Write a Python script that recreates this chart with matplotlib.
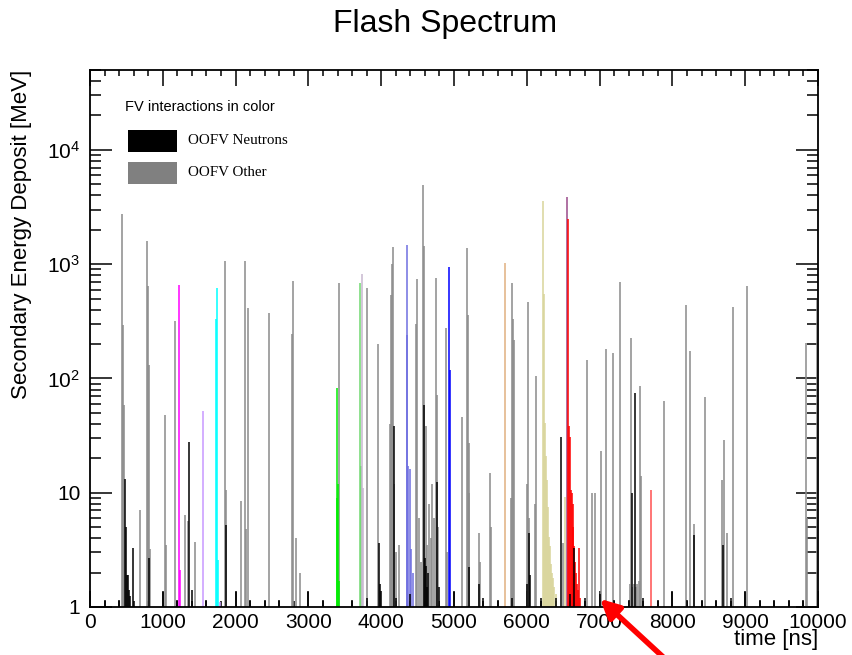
import matplotlib
matplotlib.use("Agg")
import matplotlib.pyplot as plt
from matplotlib.ticker import FixedLocator, NullFormatter, MultipleLocator
from matplotlib.patches import Rectangle, FancyArrowPatch

plt.rcParams['font.family'] = ['Liberation Sans', 'DejaVu Sans']
plt.rcParams['mathtext.fontset'] = 'custom'
plt.rcParams['mathtext.rm'] = 'Liberation Sans'

# ---------------- data ----------------
# OOFV "other" deposits (grey)
gray_t = [444, 458, 466, 687, 783, 797, 811, 825, 1035, 1050, 1163, 1310, 1340,
          1447, 1850, 1864, 2074, 2138, 2129, 2175, 2463, 2770, 2784, 2825, 2880,
          3420, 3800, 3960, 4135, 4145, 4158, 4240, 4480, 4492, 4570, 4584,
          4610, 4625, 4748, 4762, 4775, 4886, 5110, 5174, 5188, 5200, 5212,
          5348, 5362, 5495, 5508, 5780, 5792, 5805, 5818, 6012, 6122, 6493,
          6822, 6891, 6930, 7019, 7088, 7179, 7285, 7427, 7550, 7565, 7885,
          8191, 8242, 8292, 8452, 8681, 8713, 8744, 8837, 9029, 9835, 9982,
          4120, 4170, 4200, 4520, 4540, 4655, 4680, 4700, 4720, 4900,
          6000, 6024, 6110, 7415, 7450, 7470, 7500, 7520, 7540, 9845]
gray_h = [2760, 295, 58, 7.1, 1600, 645, 131, 3.2, 48, 3.5, 317, 6.4, 5.7,
          3.7, 1070, 10.5, 8.4, 4.8, 1070, 410, 376, 245, 710, 4, 2,
          690, 615, 200, 535, 1000, 1410, 3.5, 300, 740, 4900, 1440,
          38, 3.5, 760, 72, 5, 275, 46, 1385, 357, 27, 10,
          4.4, 2.5, 15, 5, 9, 690, 330, 216, 470, 105, 3.6,
          145, 10, 10, 23, 180, 168, 705, 225, 86, 14, 64,
          435, 175, 5.3, 69, 13, 29, 4.4, 425, 645, 203, 490,
          40, 12, 3, 6, 2.5, 8, 4, 12, 6, 3,
          12, 6, 8, 1.6, 1.5, 1.6, 1.5, 1.6, 1.7, 6]

# OOFV neutron deposits (black)
black_t = [200, 400, 480, 494, 513, 527, 541, 555, 595, 815, 1000, 1200, 1364,
           1400, 1600, 1868, 2000, 2200, 2400, 2600, 3000, 3200, 3600, 3800,
           3970, 3984, 4180, 4200, 4400, 4590, 4600, 4614, 4628, 4642, 4765,
           4800, 5000, 5200, 5343, 5400, 5600, 5800, 6000, 6030, 6044, 6200,
           6400, 6470, 6600, 6650, 6800, 7000, 7200, 7400, 7441, 7491, 7600,
           7800, 8000, 8200, 8292, 8400, 8600, 8700, 8800, 9000, 9200, 9400,
           9600, 9800]
black_h = [1.15, 1.15, 13.1, 5, 1.9, 1.9, 1.4, 1.25, 3.3, 2.7, 1.36, 1.15, 28,
           1.4, 1.15, 5.2, 1.36, 1.15, 1.15, 1.15, 1.36, 1.15, 1.15, 1.2,
           3.6, 1.6, 38, 1.2, 1.3, 59, 2.7, 2.3, 1.5, 2.0, 12.5,
           1.5, 1.36, 2.25, 1.6, 1.2, 1.15, 1.2, 1.6, 4.4, 1.9, 1.2,
           1.2, 31, 1.3, 3.3, 1.2, 1.3, 1.15, 1.15, 10, 75, 1.2,
           1.15, 1.36, 1.15, 4.3, 1.15, 1.15, 3.5, 1.2, 1.36, 1.15, 1.15,
           1.15, 1.15]

# FV interactions (coloured)
magenta_t = [1227, 1237]
magenta_h = [660, 2.1]
lilac_t = [1557, 1780]
lilac_h = [52, 1.1]
cyan_t = [1728, 1740, 1754]
cyan_h = [330, 620, 2.6]
green_t = [3390, 3397, 3405, 3420]
green_h = [9, 82, 12, 1.7]
lgreen_t = [3709, 3716]
lgreen_h = [680, 17]
mauve_t = [3741, 3750]
mauve_h = [815, 11]
slate_t = [4350, 4360, 4375, 4390, 4410, 4440]
slate_h = [1470, 240, 17, 16, 3.2, 2]
blue_t = [4936, 4945]
blue_h = [935, 118]
tan_t = [5700]
tan_h = [1030]
khaki_t = [6218, 6230, 6245, 6260, 6275, 6290, 6305, 6320, 6335, 6350, 6365,
           6380, 6400, 6525]
khaki_h = [3570, 550, 41, 21, 13, 7.5, 4.1, 3.4, 2.4, 2.0, 1.8, 1.5, 1.3, 9.2]
purple_t = [6555]
purple_h = [3890]
red_t = [6565, 6578, 6590, 6602, 6615, 6628, 6641, 6654, 6667, 6680, 6693,
         6706, 6719, 6732]
red_h = [2470, 38, 31, 10.6, 10, 8, 5, 3.4, 2.5, 2.0, 1.6, 1.4, 3.3, 1.2]
lred_t = [7701]
lred_h = [10.6]

xticks = [0, 1000, 2000, 3000, 4000, 5000, 6000, 7000, 8000, 9000, 10000]
yticks = [1, 10, 100, 1000, 10000]
ylabels = ['1', '10', r'$\mathregular{10^{2}}$', r'$\mathregular{10^{3}}$',
           r'$\mathregular{10^{4}}$']

# ---------------- figure ----------------
W, H = 853, 655
fig = plt.figure(figsize=(W / 100, H / 100), dpi=100)
ax = fig.add_axes([90 / W, 1 - 607 / H, (818 - 90) / W, (607 - 70) / H])
ax.set_yscale('log')

LW = 1.1
def spikes(t, h, c):
    ax.vlines(t, 1, h, colors=c, linewidth=LW)

spikes(gray_t, gray_h, '#8a8a8a')
for t, h, c in [(magenta_t, magenta_h, '#ff00ff'), (lilac_t, lilac_h, '#c899ff'),
                (cyan_t, cyan_h, '#00ffff'), (green_t, green_h, '#00ee00'),
                (lgreen_t, lgreen_h, '#70d870'), (mauve_t, mauve_h, '#c8b8d0'),
                (slate_t, slate_h, '#6f6fe0'), (blue_t, blue_h, '#0000ff'),
                (tan_t, tan_h, '#e0b080'), (khaki_t, khaki_h, '#d8d49a'),
                (purple_t, purple_h, '#9a4a8a'), (red_t, red_h, '#ff0000'),
                (lred_t, lred_h, '#ff5050')]:
    spikes(t, h, c)
spikes(black_t, black_h, 'black')

ax.set_xlim(0, 10000)
ax.set_ylim(1, 5e4)
ax.xaxis.set_major_locator(FixedLocator(xticks))
ax.xaxis.set_minor_locator(MultipleLocator(200))
ax.set_xticklabels([str(v) for v in xticks])
ax.yaxis.set_major_locator(FixedLocator(yticks))
ax.set_yticklabels(ylabels)
ax.yaxis.set_minor_locator(FixedLocator([m * 10 ** e for e in range(0, 5) for m in range(2, 10)]))
ax.yaxis.set_minor_formatter(NullFormatter())

ax.tick_params(axis='both', which='both', direction='in', top=True, right=True,
               labelsize=15, width=1.1, colors='black')
ax.tick_params(axis='x', which='major', length=11.5, pad=4)
ax.tick_params(axis='x', which='minor', length=4.3)
ax.tick_params(axis='y', which='major', length=15.8, pad=7)
ax.tick_params(axis='y', which='minor', length=7.9)
for s in ax.spines.values():
    s.set_linewidth(1.3)

# titles
fig.text(445 / W, 1 - 24 / H, 'Flash Spectrum', ha='center', va='center', fontsize=23)
fig.text(22 / W, 1 - 70 / H, 'Secondary Energy Deposit [MeV]', rotation=90,
         ha='center', va='top', fontsize=16)
fig.text(818 / W, 1 - 640 / H, 'time [ns]', ha='right', va='center', fontsize=16)

# legend
fig.text(125 / W, 1 - 107 / H, 'FV interactions in color', ha='left', va='center',
         fontsize=10.5)
for y0, c, lab in [(130, 'black', 'OOFV Neutrons'), (162, '#808080', 'OOFV Other')]:
    fig.patches.append(Rectangle((128 / W, 1 - (y0 + 22) / H), 49 / W, 22 / H,
                                 transform=fig.transFigure, color=c, linewidth=0))
    fig.text(188 / W, 1 - (y0 + 11) / H, lab, ha='left', va='center', fontsize=10.8,
             family=['Liberation Serif', 'DejaVu Serif'])

# red annotation arrow
arr = FancyArrowPatch((675 / W, 1 - 668 / H), (598 / W, 1 - 597 / H),
                      transform=fig.transFigure, arrowstyle='-|>', mutation_scale=28,
                      color='#ff0000', linewidth=4, clip_on=False)
fig.patches.append(arr)

fig.savefig('out.png', dpi=100)
